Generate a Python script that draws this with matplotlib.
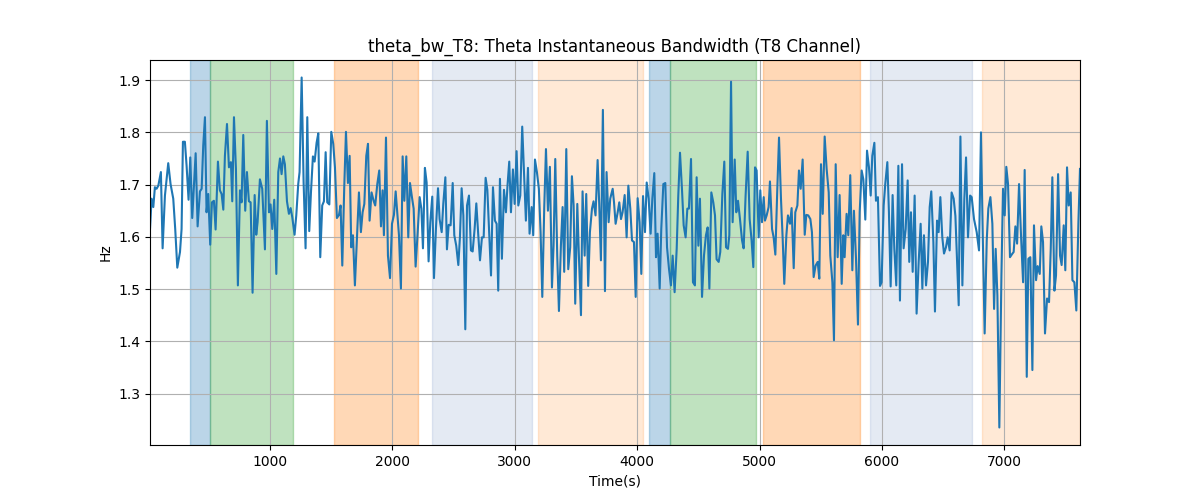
import matplotlib
matplotlib.use("Agg")
import matplotlib.pyplot as plt
import numpy as np

# peaks / troughs of the bandwidth trace
time_s = [
    20, 33, 47, 60, 74, 88, 109, 123, 142, 169, 188, 210, 226, 243, 265, 278, 289, 305, 319, 335,
    349, 365, 393, 409, 428, 442, 455, 469, 482, 496, 512, 526, 542, 556, 575, 591, 605, 619, 632, 649,
    665, 681, 692, 706, 722, 738, 755, 768, 782, 798, 812, 828, 842, 858, 875, 888, 899, 918, 937, 959,
    975, 992, 1005, 1019, 1035, 1052, 1068, 1082, 1095, 1109, 1122, 1139, 1155, 1169, 1182, 1201, 1215, 1231, 1242, 1259,
    1275, 1291, 1305, 1321, 1335, 1351, 1365, 1381, 1395, 1411, 1427, 1441, 1455, 1468, 1485, 1501, 1517, 1531, 1547, 1564,
    1577, 1591, 1607, 1621, 1637, 1651, 1664, 1678, 1694, 1711, 1727, 1743, 1757, 1771, 1787, 1801, 1814, 1830, 1847, 1860,
    1877, 1893, 1907, 1920, 1931, 1948, 1964, 1981, 1997, 2013, 2027, 2040, 2054, 2070, 2084, 2098, 2114, 2130, 2144, 2160,
    2174, 2190, 2207, 2223, 2237, 2250, 2266, 2280, 2296, 2310, 2326, 2340, 2356, 2373, 2386, 2403, 2416, 2433, 2446, 2460,
    2476, 2493, 2506, 2522, 2539, 2552, 2566, 2580, 2596, 2610, 2626, 2642, 2656, 2672, 2686, 2702, 2716, 2732, 2746, 2762,
    2776, 2792, 2806, 2822, 2838, 2852, 2865, 2879, 2895, 2912, 2928, 2941, 2955, 2969, 2985, 2999, 3015, 3029, 3045, 3061,
    3078, 3091, 3108, 3121, 3138, 3151, 3165, 3181, 3197, 3211, 3225, 3241, 3255, 3271, 3287, 3304, 3317, 3331, 3347, 3361,
    3377, 3391, 3404, 3421, 3437, 3453, 3467, 3481, 3494, 3511, 3524, 3541, 3554, 3571, 3584, 3600, 3614, 3631, 3644, 3660,
    3677, 3690, 3704, 3720, 3737, 3750, 3767, 3780, 3800, 3811, 3824, 3841, 3854, 3868, 3881, 3898, 3914, 3928, 3944, 3958,
    3974, 3988, 4004, 4020, 4034, 4048, 4064, 4078, 4094, 4110, 4124, 4140, 4154, 4167, 4184, 4197, 4214, 4230, 4244, 4260,
    4276, 4290, 4306, 4323, 4336, 4350, 4366, 4380, 4396, 4410, 4423, 4440, 4456, 4472, 4486, 4500, 4513, 4530, 4546, 4562,
    4576, 4590, 4606, 4622, 4636, 4649, 4666, 4679, 4696, 4712, 4726, 4742, 4753, 4767, 4780, 4797, 4810, 4824, 4840, 4857,
    4870, 4886, 4903, 4919, 4935, 4949, 4963, 4976, 4993, 5006, 5020, 5034, 5044, 5058, 5074, 5085, 5102, 5115, 5129, 5145,
    5159, 5175, 5189, 5202, 5219, 5232, 5249, 5262, 5279, 5292, 5309, 5322, 5336, 5352, 5369, 5382, 5398, 5415, 5428, 5442,
    5458, 5475, 5488, 5502, 5516, 5532, 5548, 5565, 5578, 5595, 5608, 5622, 5638, 5654, 5671, 5684, 5695, 5711, 5725, 5741,
    5758, 5771, 5788, 5804, 5818, 5834, 5848, 5864, 5878, 5894, 5908, 5921, 5938, 5951, 5967, 5984, 5997, 6014, 6027, 6044,
    6057, 6071, 6087, 6101, 6117, 6134, 6147, 6164, 6177, 6194, 6210, 6223, 6237, 6251, 6267, 6283, 6300, 6316, 6330, 6343,
    6360, 6376, 6390, 6403, 6420, 6433, 6450, 6463, 6477, 6493, 6507, 6523, 6537, 6553, 6569, 6586, 6600, 6627, 6641, 6657,
    6673, 6687, 6703, 6720, 6733, 6752, 6774, 6793, 6809, 6823, 6839, 6856, 6869, 6886, 6902, 6916, 6929, 6943, 6959, 6976,
    6989, 7003, 7016, 7030, 7046, 7063, 7076, 7090, 7104, 7120, 7136, 7153, 7166, 7183, 7196, 7212, 7229, 7242, 7259, 7272,
    7289, 7302, 7316, 7332, 7349, 7365, 7379, 7392, 7409, 7422, 7439, 7455, 7468, 7485, 7498, 7512, 7526, 7542, 7556, 7572,
    7588, 7605, 7618,
]
bw_hz = [
    1.615, 1.673, 1.657, 1.695, 1.692, 1.698, 1.724, 1.578, 1.679, 1.741, 1.701, 1.673, 1.615, 1.541, 1.571, 1.615, 1.782, 1.782, 1.736, 1.671,
    1.752, 1.636, 1.760, 1.620, 1.687, 1.692, 1.775, 1.829, 1.647, 1.682, 1.585, 1.666, 1.669, 1.614, 1.744, 1.689, 1.682, 1.652, 1.755, 1.816,
    1.733, 1.743, 1.668, 1.829, 1.730, 1.507, 1.689, 1.666, 1.795, 1.650, 1.724, 1.668, 1.666, 1.493, 1.680, 1.604, 1.628, 1.710, 1.692, 1.576,
    1.822, 1.647, 1.662, 1.615, 1.671, 1.529, 1.724, 1.750, 1.720, 1.754, 1.739, 1.668, 1.644, 1.655, 1.638, 1.604, 1.641, 1.701, 1.724, 1.905,
    1.704, 1.578, 1.829, 1.611, 1.685, 1.754, 1.744, 1.780, 1.798, 1.561, 1.660, 1.668, 1.762, 1.666, 1.662, 1.801, 1.778, 1.733, 1.636, 1.642,
    1.660, 1.545, 1.695, 1.801, 1.703, 1.755, 1.580, 1.603, 1.507, 1.599, 1.685, 1.609, 1.647, 1.663, 1.755, 1.778, 1.631, 1.685, 1.669, 1.660,
    1.701, 1.727, 1.620, 1.689, 1.603, 1.790, 1.564, 1.521, 1.625, 1.642, 1.687, 1.647, 1.603, 1.501, 1.754, 1.669, 1.754, 1.599, 1.703, 1.676,
    1.654, 1.543, 1.609, 1.676, 1.654, 1.578, 1.732, 1.704, 1.553, 1.628, 1.677, 1.521, 1.615, 1.693, 1.634, 1.609, 1.663, 1.714, 1.576, 1.623,
    1.622, 1.703, 1.603, 1.583, 1.546, 1.599, 1.693, 1.641, 1.423, 1.660, 1.679, 1.574, 1.572, 1.615, 1.664, 1.603, 1.555, 1.599, 1.599, 1.713,
    1.690, 1.603, 1.526, 1.695, 1.631, 1.625, 1.497, 1.711, 1.558, 1.690, 1.647, 1.699, 1.744, 1.647, 1.729, 1.663, 1.764, 1.660, 1.679, 1.811,
    1.708, 1.631, 1.732, 1.606, 1.657, 1.603, 1.748, 1.724, 1.692, 1.609, 1.485, 1.657, 1.768, 1.650, 1.734, 1.503, 1.583, 1.749, 1.564, 1.458,
    1.583, 1.657, 1.533, 1.768, 1.538, 1.580, 1.716, 1.660, 1.472, 1.663, 1.564, 1.450, 1.687, 1.564, 1.682, 1.506, 1.609, 1.654, 1.668, 1.641,
    1.747, 1.663, 1.555, 1.843, 1.496, 1.724, 1.628, 1.673, 1.692, 1.666, 1.625, 1.647, 1.666, 1.634, 1.647, 1.680, 1.599, 1.698, 1.654, 1.593,
    1.590, 1.485, 1.674, 1.628, 1.529, 1.678, 1.609, 1.704, 1.673, 1.606, 1.673, 1.722, 1.561, 1.606, 1.501, 1.615, 1.701, 1.703, 1.580, 1.539,
    1.507, 1.564, 1.494, 1.577, 1.679, 1.761, 1.692, 1.622, 1.599, 1.654, 1.654, 1.749, 1.513, 1.507, 1.714, 1.583, 1.673, 1.485, 1.564, 1.603,
    1.618, 1.501, 1.685, 1.666, 1.641, 1.557, 1.552, 1.571, 1.682, 1.744, 1.580, 1.577, 1.603, 1.897, 1.628, 1.748, 1.647, 1.669, 1.634, 1.593,
    1.578, 1.679, 1.763, 1.634, 1.593, 1.542, 1.733, 1.727, 1.599, 1.689, 1.628, 1.676, 1.631, 1.641, 1.657, 1.706, 1.615, 1.599, 1.566, 1.692,
    1.790, 1.673, 1.596, 1.510, 1.603, 1.641, 1.625, 1.655, 1.540, 1.647, 1.660, 1.727, 1.692, 1.748, 1.604, 1.642, 1.641, 1.634, 1.609, 1.523,
    1.545, 1.552, 1.520, 1.739, 1.644, 1.792, 1.730, 1.685, 1.564, 1.513, 1.402, 1.739, 1.561, 1.680, 1.510, 1.603, 1.561, 1.644, 1.603, 1.718,
    1.536, 1.650, 1.558, 1.432, 1.647, 1.727, 1.710, 1.633, 1.765, 1.733, 1.679, 1.755, 1.780, 1.669, 1.676, 1.506, 1.513, 1.660, 1.701, 1.743,
    1.647, 1.505, 1.680, 1.577, 1.507, 1.736, 1.478, 1.739, 1.578, 1.615, 1.708, 1.552, 1.647, 1.533, 1.679, 1.453, 1.552, 1.625, 1.501, 1.603,
    1.507, 1.552, 1.657, 1.687, 1.590, 1.457, 1.631, 1.609, 1.676, 1.599, 1.568, 1.580, 1.599, 1.574, 1.685, 1.673, 1.640, 1.469, 1.792, 1.507,
    1.673, 1.752, 1.599, 1.679, 1.676, 1.634, 1.609, 1.574, 1.800, 1.609, 1.415, 1.593, 1.654, 1.676, 1.625, 1.462, 1.577, 1.488, 1.235, 1.526,
    1.692, 1.641, 1.734, 1.701, 1.561, 1.567, 1.571, 1.620, 1.587, 1.701, 1.603, 1.513, 1.728, 1.332, 1.558, 1.561, 1.345, 1.622, 1.517, 1.544,
    1.529, 1.620, 1.590, 1.415, 1.482, 1.475, 1.577, 1.714, 1.497, 1.526, 1.720, 1.564, 1.546, 1.622, 1.536, 1.733, 1.660, 1.685, 1.517, 1.513,
    1.459, 1.628, 1.730,
]

# shaded segments
span_start = [350, 510, 1520, 2322, 3190, 4100, 4268, 5028, 5905, 6820]
span_end = [510, 1190, 2210, 3140, 4045, 4268, 4975, 5818, 6735, 7618]
span_color = ["tab:blue", "tab:green", "tab:orange", "#4c72b0", "tab:orange",
              "tab:blue", "tab:green", "tab:orange", "#4c72b0", "tab:orange"]
span_alpha = [0.3, 0.3, 0.3, 0.15, 0.17, 0.3, 0.3, 0.3, 0.15, 0.17]

fig, ax = plt.subplots(figsize=(12, 5), dpi=100)

for start, end, color, alpha in zip(span_start, span_end, span_color, span_alpha):
    ax.axvspan(start, end, color=color, alpha=alpha)

ax.plot(time_s, bw_hz, color="tab:blue", linewidth=1.5)

ax.set_xlim(time_s[0], time_s[-1])
ax.set_title("theta_bw_T8: Theta Instantaneous Bandwidth (T8 Channel)")
ax.set_xlabel("Time(s)")
ax.set_ylabel("Hz")
ax.grid(True)

fig.savefig("out.png", dpi=100)
